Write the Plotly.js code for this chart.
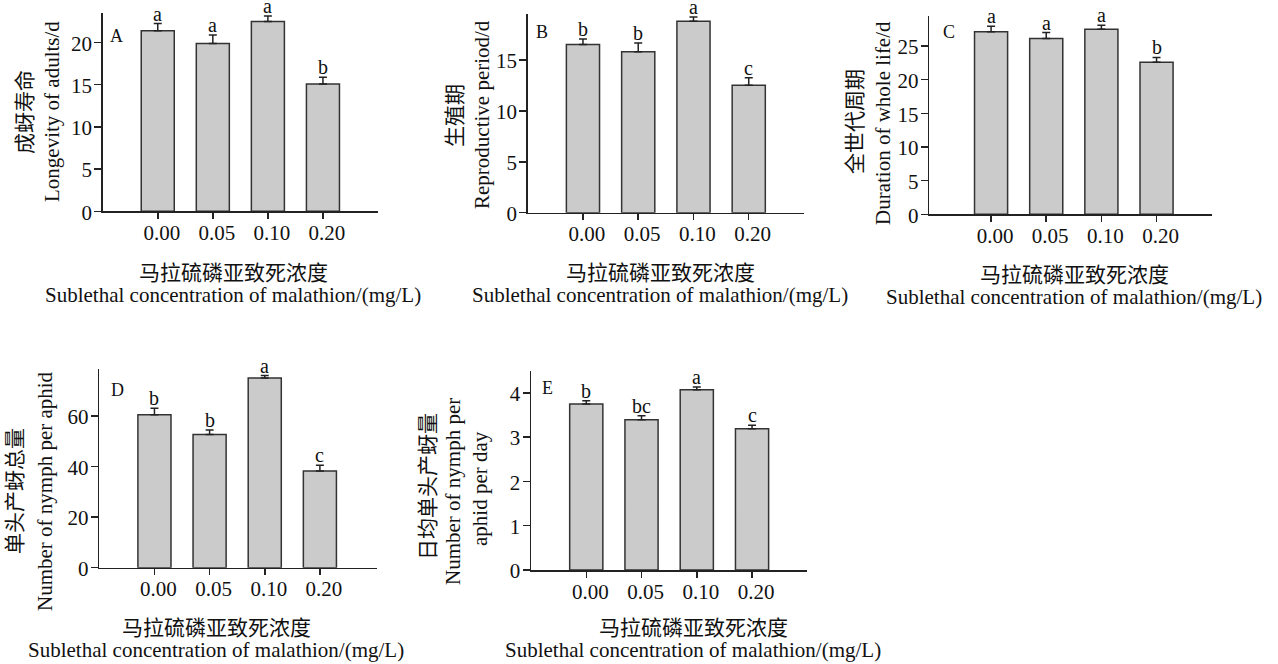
<!DOCTYPE html>
<html>
<head>
<meta charset="utf-8">
<script src="https://cdn.plot.ly/plotly-3.0.1.min.js"></script>
<style>html,body{margin:0;padding:0;background:#fff;}#chart{width:1278px;height:664px;}</style>
</head>
<body>
<div id="chart"></div>
<script>
// ---- data ----
const categories = ['0.00', '0.05', '0.10', '0.20'];

const longevityAdults = [21.4, 19.9, 22.5, 15.1];
const longevityAdultsErr = [0.85, 1.0, 0.65, 0.8];
const longevityAdultsLetters = ['a', 'a', 'a', 'b'];

const reproductivePeriod = [16.5, 15.8, 18.8, 12.5];
const reproductivePeriodErr = [0.55, 0.85, 0.4, 0.75];
const reproductivePeriodLetters = ['b', 'b', 'a', 'c'];

const wholeLife = [27.1, 26.1, 27.5, 22.6];
const wholeLifeErr = [0.85, 0.9, 0.6, 0.7];
const wholeLifeLetters = ['a', 'a', 'a', 'b'];

const nymphTotal = [60.4, 52.6, 74.9, 38.2];
const nymphTotalErr = [2.6, 1.8, 1.0, 2.3];
const nymphTotalLetters = ['b', 'b', 'a', 'c'];

const nymphPerDay = [3.75, 3.39, 4.07, 3.19];
const nymphPerDayErr = [0.07, 0.09, 0.06, 0.08];
const nymphPerDayLetters = ['b', 'bc', 'a', 'c'];

const panelLabels = ['A', 'B', 'C', 'D', 'E'];
const yTitlesZh = ['成蚜寿命', '生殖期', '全世代周期', '单头产蚜总量', '日均单头产蚜量'];
const yTitlesEn = [['Longevity of adults/d'], ['Reproductive period/d'], ['Duration of whole life/d'], ['Number of nymph per aphid'], ['Number of nymph per', 'aphid per day']];
const xTitleZh = '马拉硫磷亚致死浓度';
const xTitleEn = 'Sublethal concentration of malathion/(mg/L)';

// ---- layout geometry (pixels) ----
const W = 1278, H = 664;
const FONT = "'Liberation Serif', 'Noto Sans CJK SC', serif";
const px = x => x / W;
const py = y => 1 - y / H;

const panels = [
  {vals: longevityAdults, err: longevityAdultsErr, letters: longevityAdultsLetters, box: [102.7, 378, 13, 211.3], yr: [0, 23.5], dtick: 5, xr: [-1, 4],
   lab: [116, 36], zh: [25, 112], en: [[52, 112]], xt: [233, 273, 295]},
  {vals: reproductivePeriod, err: reproductivePeriodErr, letters: reproductivePeriodLetters, box: [527.7, 804, 14, 212.7], yr: [0, 19.5], dtick: 5, xr: [-1, 4],
   lab: [542, 32], zh: [455, 115], en: [[482, 115]], xt: [660, 273, 295]},
  {vals: wholeLife, err: wholeLifeErr, letters: wholeLifeLetters, box: [929.3, 1211.7, 15.7, 214.3], yr: [0, 29.5], dtick: 5, xr: [-1.12, 4],
   lab: [949, 32], zh: [855, 122], en: [[883, 123]], xt: [1074, 275, 297]},
  {vals: nymphTotal, err: nymphTotalErr, letters: nymphTotalLetters, box: [99.3, 376.7, 369, 567.7], yr: [0, 78.5], dtick: 20, xr: [-1, 4.03],
   lab: [117, 390], zh: [15, 491], en: [[45, 491]], xt: [216, 628, 650]},
  {vals: nymphPerDay, err: nymphPerDayErr, letters: nymphPerDayLetters, box: [531, 807.3, 370.7, 570], yr: [0, 4.5], dtick: 1, xr: [-1, 4],
   lab: [547, 388], zh: [428, 487], en: [[453, 492], [480, 489]], xt: [693, 628, 650]}
];

const data = [];
const layout = {
  width: W, height: H,
  margin: {l: 0, r: 0, t: 0, b: 0},
  paper_bgcolor: '#fff', plot_bgcolor: '#fff',
  showlegend: false,
  bargap: 0.4,
  font: {family: FONT, size: 21, color: '#111'},
  annotations: []
};

panels.forEach((p, i) => {
  const n = i === 0 ? '' : String(i + 1);
  const xa = 'x' + n, ya = 'y' + n;
  data.push({
    type: 'bar', x: categories, y: p.vals,
    xaxis: xa, yaxis: ya,
    marker: {color: '#cbcbcb', line: {color: '#333', width: 1.5}},
    error_y: {type: 'data', array: p.err, arrayminus: p.err.map(() => 0), symmetric: false,
              visible: true, color: '#222', thickness: 1.5, width: 4},
    hoverinfo: 'skip'
  });
  const [x0, x1, y0, y1] = p.box;
  layout['xaxis' + n] = {
    domain: [px(x0), px(x1)], anchor: ya, type: 'category', range: p.xr,
    showline: true, linecolor: '#222', linewidth: 1.5,
    ticks: 'outside', ticklen: 6, tickwidth: 1.5, tickcolor: '#222',
    showgrid: false, zeroline: false, fixedrange: true,
    tickfont: {family: FONT, size: 21, color: '#111'}, ticklabelshift: 4, ticklabelstandoff: -4
  };
  layout['yaxis' + n] = {
    domain: [py(y1), py(y0)], anchor: xa, range: p.yr, tick0: 0, dtick: p.dtick,
    showline: true, linecolor: '#222', linewidth: 1.5,
    ticks: 'outside', ticklen: 7, tickwidth: 1.5, tickcolor: '#222',
    showgrid: false, zeroline: false, fixedrange: true,
    tickfont: {family: FONT, size: 21, color: '#111'}, ticklabelstandoff: -2, ticklabelshift: 1
  };
  // significance letters
  p.vals.forEach((v, k) => {
    layout.annotations.push({
      xref: xa, yref: ya, x: k, y: v + p.err[k], yanchor: 'bottom', xanchor: 'center',
      text: p.letters[k], showarrow: false, font: {family: FONT, size: 20, color: '#111'}, yshift: -3
    });
  });
  // panel letter
  layout.annotations.push({
    xref: 'paper', yref: 'paper', x: px(p.lab[0]), y: py(p.lab[1]), xanchor: 'center', yanchor: 'middle',
    text: panelLabels[i], showarrow: false, font: {family: FONT, size: 18, color: '#111'}
  });
  // y titles
  layout.annotations.push({
    xref: 'paper', yref: 'paper', x: px(p.zh[0]), y: py(p.zh[1]), xanchor: 'center', yanchor: 'middle',
    text: yTitlesZh[i], textangle: -90, showarrow: false, font: {family: FONT, size: 21, color: '#111'}
  });
  yTitlesEn[i].forEach((t, k) => {
    layout.annotations.push({
      xref: 'paper', yref: 'paper', x: px(p.en[k][0]), y: py(p.en[k][1]), xanchor: 'center', yanchor: 'middle',
      text: t, textangle: -90, showarrow: false, font: {family: FONT, size: 21, color: '#111'}
    });
  });
  // x titles
  layout.annotations.push({
    xref: 'paper', yref: 'paper', x: px(p.xt[0]), y: py(p.xt[1]), xanchor: 'center', yanchor: 'middle',
    text: xTitleZh, showarrow: false, font: {family: FONT, size: 21, color: '#111'}
  });
  layout.annotations.push({
    xref: 'paper', yref: 'paper', x: px(p.xt[0]), y: py(p.xt[2]), xanchor: 'center', yanchor: 'middle',
    text: xTitleEn, showarrow: false, font: {family: FONT, size: 21, color: '#111'}
  });
});

Plotly.newPlot('chart', data, layout, {displayModeBar: false, staticPlot: true});
</script>
</body>
</html>
